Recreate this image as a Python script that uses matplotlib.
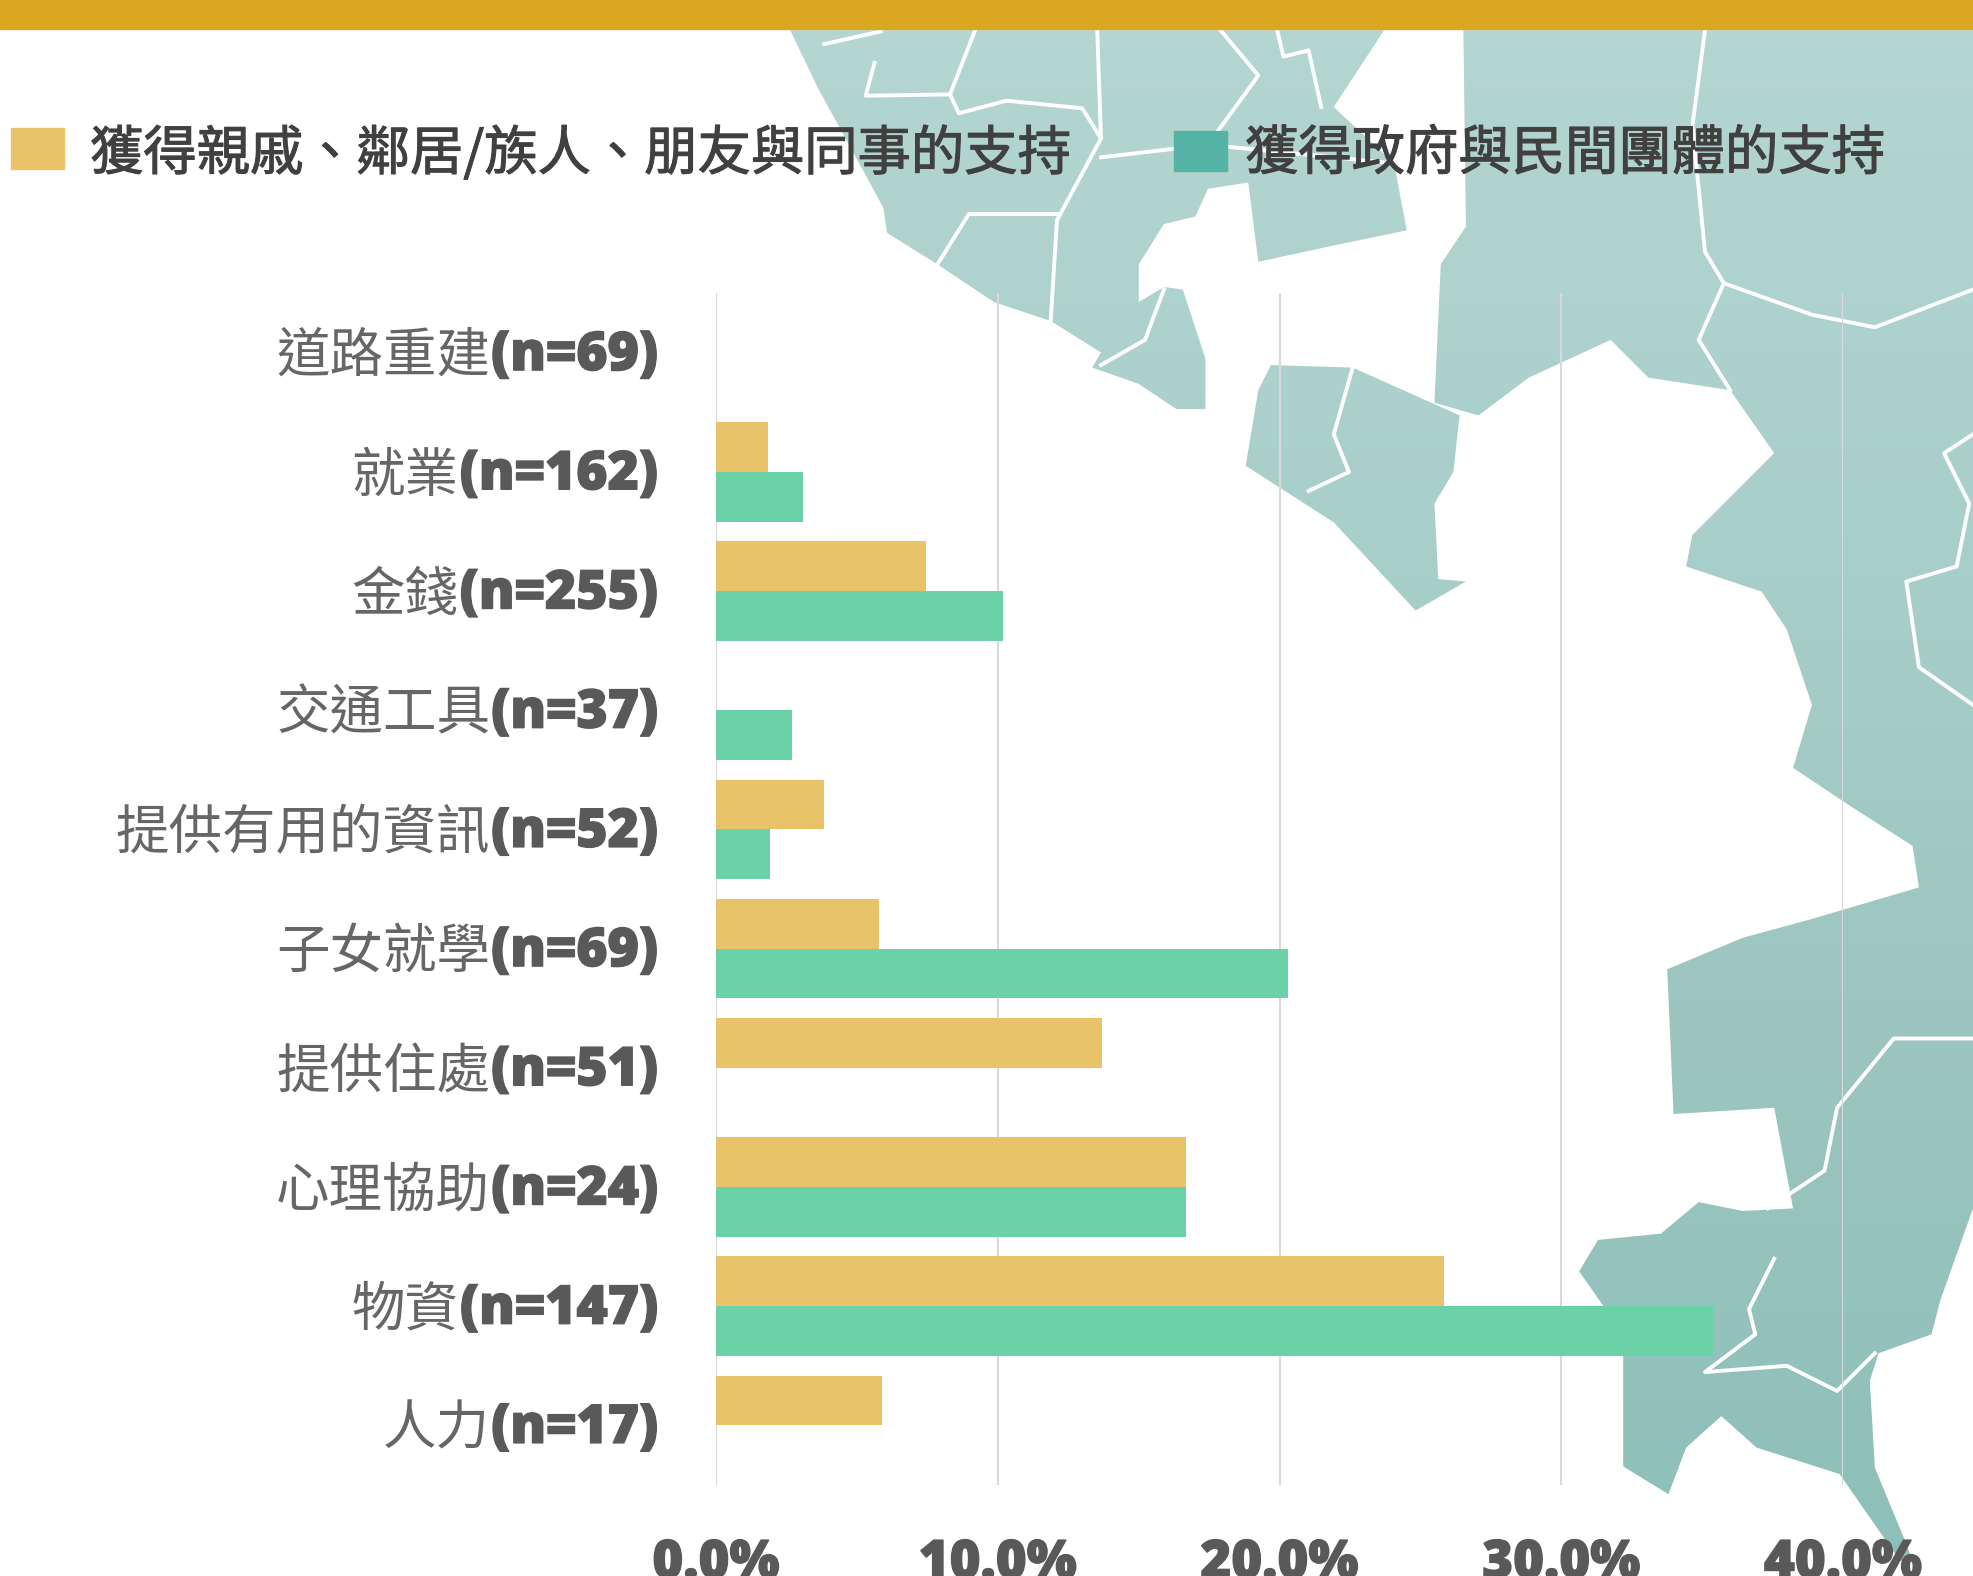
import numpy as np
import matplotlib
matplotlib.use("Agg")
import matplotlib.pyplot as plt
import matplotlib.patheffects as pe
from matplotlib.path import Path
from matplotlib.patches import Rectangle, PathPatch
from matplotlib.colors import LinearSegmentedColormap

categories = ["道路重建", "就業", "金錢", "交通工具", "提供有用的資訊", "子女就學", "提供住處", "心理協助", "物資", "人力"]
counts = ["(n=69)", "(n=162)", "(n=255)", "(n=37)", "(n=52)", "(n=69)", "(n=51)", "(n=24)", "(n=147)", "(n=17)"]
informal = [0, 1.85, 7.45, 0, 3.85, 5.8, 13.7, 16.67, 25.85, 5.9]
formal = [0, 3.08, 10.2, 2.7, 1.9, 20.3, 0, 16.67, 35.4, 0]
ticks = [0, 10, 20, 30, 40]
tick_labels = ["0.0%", "10.0%", "20.0%", "30.0%", "40.0%"]
legend_labels = ["獲得親戚、鄰居/族人、朋友與同事的支持", "獲得政府與民間團體的支持"]

CJK = ["Noto Sans CJK TC", "DejaVu Sans"]
W, H = 1973, 1576
fig = plt.figure(figsize=(W / 100, H / 100), dpi=100, facecolor="white")

# decorative background map, drawn in the coordinates of the shrunk picture
bg = fig.add_axes([0, 0, 1, 1], zorder=0)
bg.set_xlim(0, 1568); bg.set_ylim(1252, 0); bg.axis("off")
land = [
    [(628, 24), (650, 70), (672, 110), (702, 165), (705, 185), (745, 210), (790, 240), (835, 255), (875, 280),
     (868, 292), (905, 305), (935, 325), (958, 325), (958, 285), (940, 230), (925, 228), (905, 240), (905, 210),
     (925, 178), (950, 172), (960, 150), (992, 145), (1000, 208), (1060, 195), (1118, 183), (1108, 130),
     (1060, 85), (1100, 24)],
    [(990, 370), (1000, 310), (1010, 290), (1075, 292), (1160, 330), (1155, 375), (1140, 400), (1143, 460),
     (1165, 462), (1125, 485), (1060, 415)],
    [(1163, 24), (1568, 24), (1568, 960), (1542, 1033), (1535, 1060), (1493, 1075), (1486, 1097), (1490, 1166),
     (1514, 1224), (1520, 1240), (1510, 1240), (1462, 1171), (1396, 1150), (1368, 1125), (1340, 1150), (1326, 1187),
     (1290, 1165), (1290, 1060), (1255, 1010), (1270, 985), (1320, 980), (1350, 955), (1385, 962), (1425, 960),
     (1410, 880), (1330, 885), (1325, 770), (1385, 745), (1440, 730), (1525, 705), (1520, 672), (1470, 640),
     (1425, 610), (1440, 560), (1420, 500), (1400, 470), (1340, 450), (1345, 425), (1410, 360), (1375, 310),
     (1310, 300), (1280, 270), (1215, 300), (1175, 330), (1140, 320), (1145, 210), (1165, 180)],
]
verts, codes = [], []
for poly in land:
    verts += poly + [poly[0]]
    codes += [Path.MOVETO] + [Path.LINETO] * (len(poly) - 1) + [Path.CLOSEPOLY]
clip = PathPatch(Path(verts, codes), transform=bg.transData, fc="none", ec="none")
bg.add_patch(clip)
cmap = LinearSegmentedColormap.from_list("m", ["#b5d6d1", "#a9cfca", "#9cc5bf", "#8dbfb9"])
im = bg.imshow(np.linspace(0, 1, 256)[:, None], cmap=cmap, extent=[0, 1568, 1252, 0], aspect="auto", zorder=1)
im.set_clip_path(clip)
borders = [
    [(655, 35), (700, 25)], [(695, 50), (688, 76), (755, 75), (775, 24)], [(755, 75), (762, 90), (800, 80), (860, 86), (875, 110), (872, 24)],
    [(875, 110), (840, 175), (835, 255)], [(745, 210), (770, 170), (840, 170)], [(875, 125), (960, 115), (1000, 60), (970, 24)],
    [(960, 115), (1110, 130)], [(1015, 24), (1020, 45), (1040, 40), (1050, 85)], [(875, 290), (910, 270), (925, 230)],
    [(1075, 292), (1060, 345), (1072, 375), (1040, 390)], [(1355, 24), (1345, 100), (1355, 200), (1370, 225), (1440, 250), (1490, 260), (1568, 230)],
    [(1370, 225), (1350, 270), (1375, 310)], [(1568, 345), (1545, 360), (1565, 400), (1555, 450), (1515, 462), (1525, 530), (1568, 560)],
    [(1405, 960), (1450, 930), (1460, 880), (1505, 825), (1568, 825)], [(1410, 1000), (1390, 1040), (1395, 1060), (1355, 1090), (1420, 1085), (1460, 1105), (1490, 1075)],
]
for b in borders:
    xs, ys = zip(*b)
    bg.plot(xs, ys, color="white", lw=2.8, zorder=2, solid_joinstyle="round")
bg.set_xlim(0, 1568); bg.set_ylim(1252, 0)

heavy = [pe.withStroke(linewidth=1.0, foreground="#595959")]

# chart
x0, x40, top, bot = 716, 1843, 293, 1485
ax = fig.add_axes([x0 / W, 1 - bot / H, (x40 - x0) / W, (bot - top) / H], zorder=2)
ax.patch.set_alpha(0)
ypos = np.arange(len(categories))
h = 0.417
ax.barh(ypos - h / 2, informal, height=h, color="#E8C36A", zorder=3)
ax.barh(ypos + h / 2, formal, height=h, color="#6BD1A7", zorder=3)
ax.set_xlim(0, 40); ax.set_ylim(len(categories) - 0.5, -0.5)
ax.set_xticks(ticks)
ax.set_xticklabels(tick_labels, family="Open Sans", weight="extra bold", fontsize=38, color="#595959", path_effects=heavy)
ax.set_yticks([])
ax.tick_params(axis="x", length=0, pad=38)
ax.grid(axis="x", color="#d9d9d9", lw=1.5, zorder=1)
ax.set_axisbelow(True)
for s in ax.spines.values():
    s.set_visible(False)

renderer = fig.canvas.get_renderer()
right_px = 658
for y, c, n in zip(ypos, categories, counts):
    yf = 1 - ((y + 0.5) * (bot - top) / len(categories) + top + 4) / H
    t2 = fig.text(right_px / W, yf, n, ha="right", va="center", family="Open Sans", weight="extra bold", fontsize=38.5,
                  color="#595959", path_effects=heavy)
    w = t2.get_window_extent(renderer).width
    fig.text((right_px - w - 1) / W, yf, c, ha="right", va="center", family=CJK, weight="light", fontsize=38.5, color="#666666")

# top band and legend
fig.patches.append(Rectangle((0, 1 - 29 / H), 1, 29 / H, transform=fig.transFigure, color="#DBA722", zorder=5))
fig.patches.append(Rectangle((11 / W, 1 - 169 / H), 53 / W, 41 / H, transform=fig.transFigure, color="#E8C36A", zorder=5))
fig.patches.append(Rectangle((1174 / W, 1 - 171 / H), 53 / W, 40 / H, transform=fig.transFigure, color="#55B3A5", zorder=5))
fig.text(90 / W, 1 - 154 / H, legend_labels[0], va="center", family=CJK, weight="medium", fontsize=38.4, color="#404040", zorder=6,
         path_effects=[pe.withStroke(linewidth=0.8, foreground="#404040")])
fig.text(1245 / W, 1 - 154 / H, legend_labels[1], va="center", family=CJK, weight="medium", fontsize=38.4, color="#404040", zorder=6,
         path_effects=[pe.withStroke(linewidth=0.8, foreground="#404040")])

fig.savefig("out.png", dpi=100)
